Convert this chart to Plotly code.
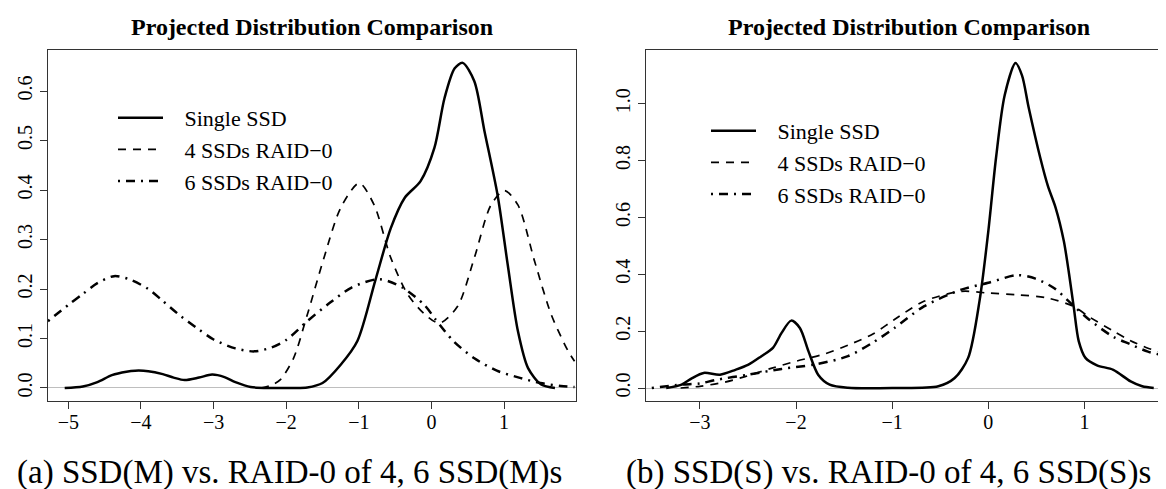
import plotly.graph_objects as go

W, H = 1166, 489
FONT = "Liberation Serif"

# ---- panel (a): SSD(M) vs RAID-0 of 4, 6 SSD(M)s
a_single_x = [-5.05, -4.8, -4.6, -4.4, -4.2, -4.08, -3.9, -3.7, -3.55, -3.4, -3.2, -3.02, -2.85, -2.7, -2.49,
              -2.2, -1.9, -1.71, -1.5, -1.25, -1.02, -0.77, -0.56, -0.37, -0.15, 0.04, 0.18, 0.32, 0.43, 0.59,
              0.73, 0.91, 1.05, 1.19, 1.33, 1.51, 1.70]
a_single_y = [0.0, 0.003, 0.012, 0.026, 0.033, 0.035, 0.034, 0.028, 0.021, 0.016, 0.021, 0.027, 0.022, 0.012, 0.002,
              0.0, 0.0, 0.001, 0.01, 0.047, 0.095, 0.219, 0.323, 0.384, 0.418, 0.485, 0.586, 0.646, 0.657, 0.62,
              0.519, 0.39, 0.249, 0.115, 0.04, 0.007, 0.0]

a_raid4_x = [-2.35, -2.2, -2.08, -1.9, -1.71, -1.48, -1.25, -0.995, -0.79, -0.56, -0.33, -0.1, 0.11, 0.36,
             0.59, 0.82, 1.005, 1.19, 1.42, 1.65, 1.88, 1.97]
a_raid4_y = [0.0, 0.006, 0.017, 0.06, 0.148, 0.263, 0.364, 0.414, 0.37, 0.263, 0.19, 0.15, 0.131, 0.165,
             0.263, 0.37, 0.399, 0.37, 0.256, 0.148, 0.075, 0.054]

a_raid6_x = [-5.28, -5.0, -4.8, -4.6, -4.37, -4.15, -3.9, -3.7, -3.45, -3.2, -3.0, -2.7, -2.44, -2.2, -2.0,
             -1.71, -1.4, -1.1, -0.72, -0.4, -0.1, 0.06, 0.3, 0.59, 0.9, 1.23, 1.5, 1.78, 1.97]
a_raid6_y = [0.135, 0.168, 0.19, 0.212, 0.226, 0.219, 0.2, 0.176, 0.145, 0.118, 0.098, 0.08, 0.074, 0.082, 0.097,
             0.135, 0.172, 0.203, 0.22, 0.203, 0.168, 0.138, 0.095, 0.06, 0.035, 0.02, 0.01, 0.004, 0.002]

# ---- panel (b): SSD(S) vs RAID-0 of 4, 6 SSD(S)s
b_single_x = [-3.35, -3.19, -3.08, -2.96, -2.79, -2.63, -2.5, -2.36, -2.24, -2.15, -2.05, -1.96, -1.87, -1.77,
              -1.65, -1.46, -1.0, -0.52, -0.35, -0.21, -0.09, 0.0, 0.08, 0.17, 0.283, 0.35, 0.42, 0.54, 0.62,
              0.70, 0.785, 0.84, 0.89, 0.94, 1.01, 1.13, 1.30, 1.48, 1.6, 1.72]
b_single_y = [0.0, 0.012, 0.035, 0.053, 0.047, 0.064, 0.081, 0.112, 0.141, 0.194, 0.237, 0.211, 0.129, 0.047,
              0.012, 0.001, 0.0, 0.006, 0.035, 0.106, 0.31, 0.552, 0.81, 1.03, 1.143, 1.10, 0.986, 0.81, 0.71,
              0.634, 0.517, 0.40, 0.28, 0.165, 0.106, 0.08, 0.064, 0.023, 0.006, 0.0]

b_raid4_x = [-3.2, -3.0, -2.75, -2.53, -2.25, -1.99, -1.7, -1.45, -1.2, -0.98, -0.67, -0.28, 0.0, 0.3, 0.61,
             0.88, 1.05, 1.3, 1.47, 1.66, 1.89]
b_raid4_y = [0.0, 0.006, 0.02, 0.04, 0.07, 0.095, 0.12, 0.152, 0.19, 0.24, 0.305, 0.34, 0.334, 0.328, 0.317,
             0.288, 0.25, 0.2, 0.168, 0.14, 0.118]

b_raid6_x = [-3.5, -3.19, -3.0, -2.84, -2.5, -2.15, -1.8, -1.46, -1.2, -0.98, -0.67, -0.28, 0.0, 0.3, 0.49,
             0.69, 0.89, 1.05, 1.3, 1.47, 1.66, 1.89]
b_raid6_y = [0.0, 0.012, 0.016, 0.028, 0.047, 0.067, 0.083, 0.112, 0.16, 0.21, 0.287, 0.346, 0.37, 0.397, 0.385,
             0.35, 0.288, 0.24, 0.18, 0.155, 0.128, 0.11]

names = ["Single SSD", "4 SSDs RAID\u22120", "6 SSDs RAID\u22120"]
title_text = "Projected Distribution Comparison"
captions = ["(a) SSD(M) vs. RAID-0 of 4, 6 SSD(M)s", "(b) SSD(S) vs. RAID-0 of 4, 6 SSD(S)s"]

styles = [dict(color="black", width=2.5, dash="solid"),
          dict(color="black", width=1.7, dash="8px,7px"),
          dict(color="black", width=2.5, dash="2px,6px,9px,6px")]

fig = go.Figure()

# R-style legend: gap between the line sample and the label
pad = "\u00a0\u00a0\u00a0"
panels = [
    ("x", "y", "legend", [(a_single_x, a_single_y), (a_raid4_x, a_raid4_y), (a_raid6_x, a_raid6_y)]),
    ("x2", "y2", "legend2", [(b_single_x, b_single_y), (b_raid4_x, b_raid4_y), (b_raid6_x, b_raid6_y)]),
]
for xa, ya, lg, series in panels:
    for (xs, ys), nm, st in zip(series, names, styles):
        fig.add_trace(go.Scatter(x=xs, y=ys, mode="lines", name=pad + nm,
                                 line=dict(shape="spline", smoothing=0.8, **st),
                                 xaxis=xa, yaxis=ya, legend=lg, hoverinfo="skip"))

def px(v, total):
    return v / total

ydom = [1 - 393 / H, 1 - 42 / H]
axis_common = dict(showline=True, mirror=True, linecolor="#333", linewidth=1.3, ticks="outside", ticklen=7,
                   tickcolor="#333", showgrid=False, automargin=False,
                   tickfont=dict(family=FONT, size=20, color="black"))
legend_common = dict(xanchor="left", yanchor="top", bgcolor="rgba(0,0,0,0)", itemwidth=45,
                     font=dict(family=FONT, size=22, color="black"), tracegroupgap=0)

fig.update_layout(
    width=W, height=H, margin=dict(l=0, r=0, t=0, b=0, autoexpand=False),
    paper_bgcolor="white", plot_bgcolor="white",
    xaxis=dict(domain=[px(40, W), px(568, W)], range=[-5.28, 1.99], dtick=1, tick0=0, anchor="y",
               zeroline=False, ticklabelstandoff=-4, **axis_common),
    yaxis=dict(domain=ydom, range=[-0.0263, 0.683], dtick=0.1, tick0=0, tickformat=".1f", tickangle=-90,
               anchor="x", zeroline=True, zerolinecolor="#bebebe", zerolinewidth=1.2, **axis_common),
    xaxis2=dict(domain=[px(638, W), px(1164, W)], range=[-3.56, 1.91], dtick=1, tick0=0, anchor="y2",
                zeroline=False, ticklabelstandoff=-4, **axis_common),
    yaxis2=dict(domain=ydom, range=[-0.0457, 1.189], dtick=0.2, tick0=0, tickformat=".1f", tickangle=-90,
                anchor="x2", zeroline=True, zerolinecolor="#bebebe", zerolinewidth=1.2, **axis_common),
    legend=dict(x=px(105, W), y=1 - 89 / H, **legend_common),
    legend2=dict(x=px(698, W), y=1 - 102 / H, **legend_common),
    showlegend=True,
)

for cx, cap_x, cap in [(304, 281, captions[0]), (901, 880, captions[1])]:
    fig.add_annotation(text="<b>%s</b>" % title_text, x=px(cx, W), y=1 - 19.5 / H, xref="paper", yref="paper",
                       xanchor="center", yanchor="middle", showarrow=False,
                       font=dict(family=FONT, size=24, color="black"))
    fig.add_annotation(text=cap, x=px(cap_x, W), y=1 - 464 / H, xref="paper", yref="paper",
                       xanchor="center", yanchor="middle", showarrow=False,
                       font=dict(family=FONT, size=33, color="black"))

fig.write_html("out.html")
